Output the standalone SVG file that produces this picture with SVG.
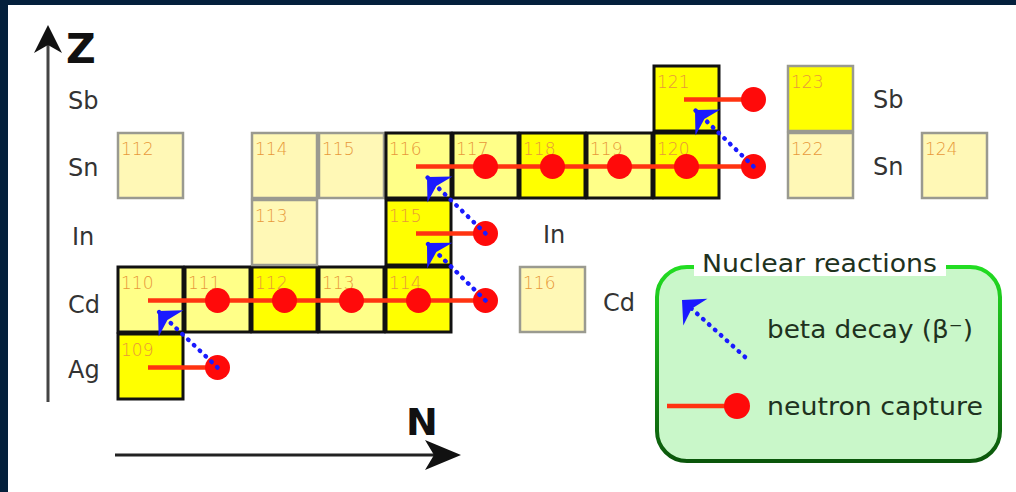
<svg xmlns="http://www.w3.org/2000/svg" width="1016" height="492" viewBox="0 0 1016 492">
<defs>
<style>
.lbl{font-family:"DejaVu Sans","Liberation Sans",sans-serif;font-size:24px;fill:#333333}
.axl{font-family:"DejaVu Sans","Liberation Sans",sans-serif;font-weight:bold;fill:#111111}
.num{font-family:"DejaVu Sans","Liberation Sans",sans-serif;font-size:17px;fill:#e8983a;font-weight:300}
.b{fill:#ffff00;stroke:#111111;stroke-width:3}
.l{fill:#ffff88;stroke:#111111;stroke-width:3}
.p{fill:#fff8b6;stroke:#9a9a90;stroke-width:2.5}
.pb{fill:#ffff00;stroke:#9a9a90;stroke-width:2.5}
.nc{stroke:#ff3311;stroke-width:4.5;fill:none}
.dot{fill:#ff0a0a}
.bd{stroke:#1a1aff;stroke-width:4.5;stroke-dasharray:0.5 7.5;stroke-linecap:round;fill:none;marker-end:url(#bh)}
.leg{font-family:"DejaVu Sans","Liberation Sans",sans-serif;font-size:25px;fill:#1e321e}
</style>
<marker id="bh" markerUnits="userSpaceOnUse" markerWidth="44" markerHeight="44" viewBox="-22 -22 44 44" refX="0" refY="0" orient="auto">
<path d="M0,0 L-18,-18 L-13,0 L-18,18 Z" fill="#1a1aff"/>
</marker>
<linearGradient id="gs" x1="0" y1="0" x2="0" y2="1">
<stop offset="0" stop-color="#22dd22"/>
<stop offset="1" stop-color="#0b560b"/>
</linearGradient>
</defs>
<rect x="0" y="0" width="1016" height="492" fill="#04203c"/>
<rect x="8" y="5" width="1008" height="487" fill="#ffffff"/>

<g id="axes">
<line x1="48" y1="402" x2="48" y2="40" stroke="#444" stroke-width="3"/>
<path d="M48,25 L62,53 L48,45 L34,53 Z" fill="#111"/>
<text class="axl" x="66" y="63" font-size="41">Z</text>
<line x1="115" y1="455" x2="445" y2="455" stroke="#222" stroke-width="3"/>
<path d="M461,455 L425,440 L434,455 L425,470 Z" fill="#111"/>
<text class="axl" x="406" y="435" font-size="38">N</text>
</g>

<g id="labels">
<text class="lbl" x="68" y="109">Sb</text>
<text class="lbl" x="68" y="176">Sn</text>
<text class="lbl" x="72" y="245">In</text>
<text class="lbl" x="68" y="313">Cd</text>
<text class="lbl" x="68" y="378">Ag</text>
<text class="lbl" x="873" y="108">Sb</text>
<text class="lbl" x="873" y="175">Sn</text>
<text class="lbl" x="543" y="243">In</text>
<text class="lbl" x="603" y="311">Cd</text>
</g>

<g id="Ag109"><rect class="b" x="118" y="334" width="65" height="65"/><text class="num" x="121" y="356">109</text></g>
<g id="Cd110"><rect class="l" x="118" y="267" width="65" height="65"/><text class="num" x="121" y="289">110</text></g>
<g id="Cd111"><rect class="l" x="185" y="267" width="65" height="65"/><text class="num" x="188" y="289">111</text></g>
<g id="Cd112"><rect class="b" x="252" y="267" width="65" height="65"/><text class="num" x="255" y="289">112</text></g>
<g id="Cd113"><rect class="l" x="319" y="267" width="65" height="65"/><text class="num" x="322" y="289">113</text></g>
<g id="Cd114"><rect class="b" x="386" y="267" width="65" height="65"/><text class="num" x="389" y="289">114</text></g>
<g id="Cd116"><rect class="p" x="520" y="267" width="65" height="65"/><text class="num" x="523" y="289">116</text></g>
<g id="In113"><rect class="p" x="252" y="200" width="65" height="65"/><text class="num" x="255" y="222">113</text></g>
<g id="In115"><rect class="b" x="386" y="200" width="65" height="65"/><text class="num" x="389" y="222">115</text></g>
<g id="Sn112"><rect class="p" x="118" y="133" width="65" height="65"/><text class="num" x="121" y="155">112</text></g>
<g id="Sn114"><rect class="p" x="252" y="133" width="65" height="65"/><text class="num" x="255" y="155">114</text></g>
<g id="Sn115"><rect class="p" x="319" y="133" width="65" height="65"/><text class="num" x="322" y="155">115</text></g>
<g id="Sn116"><rect class="l" x="386" y="133" width="65" height="65"/><text class="num" x="389" y="155">116</text></g>
<g id="Sn117"><rect class="l" x="453" y="133" width="65" height="65"/><text class="num" x="456" y="155">117</text></g>
<g id="Sn118"><rect class="b" x="520" y="133" width="65" height="65"/><text class="num" x="523" y="155">118</text></g>
<g id="Sn119"><rect class="l" x="587" y="133" width="65" height="65"/><text class="num" x="590" y="155">119</text></g>
<g id="Sn120"><rect class="b" x="654" y="133" width="65" height="65"/><text class="num" x="657" y="155">120</text></g>
<g id="Sn122"><rect class="p" x="788" y="133" width="65" height="65"/><text class="num" x="791" y="155">122</text></g>
<g id="Sn124"><rect class="p" x="922" y="133" width="65" height="65"/><text class="num" x="925" y="155">124</text></g>
<g id="Sb121"><rect class="b" x="654" y="66" width="65" height="65"/><text class="num" x="657" y="88">121</text></g>
<g id="Sb123"><rect class="pb" x="788" y="66" width="65" height="65"/><text class="num" x="791" y="88">123</text></g>

<g id="connectors">
<line class="nc" x1="148" y1="367.5" x2="217.5" y2="367.5"/>
<line class="nc" x1="148" y1="300.5" x2="485.5" y2="300.5"/>
<line class="nc" x1="416" y1="233.5" x2="485.5" y2="233.5"/>
<line class="nc" x1="416" y1="166.5" x2="753.5" y2="166.5"/>
<line class="nc" x1="684" y1="99.5" x2="753.5" y2="99.5"/>
<circle class="dot" cx="217.5" cy="367.5" r="12.5"/>
<circle class="dot" cx="217.5" cy="300.5" r="12.5"/>
<circle class="dot" cx="284.5" cy="300.5" r="12.5"/>
<circle class="dot" cx="351.5" cy="300.5" r="12.5"/>
<circle class="dot" cx="418.5" cy="300.5" r="12.5"/>
<circle class="dot" cx="485.5" cy="300.5" r="12.5"/>
<circle class="dot" cx="485.5" cy="233.5" r="12.5"/>
<circle class="dot" cx="485.5" cy="166.5" r="12.5"/>
<circle class="dot" cx="552.5" cy="166.5" r="12.5"/>
<circle class="dot" cx="619.5" cy="166.5" r="12.5"/>
<circle class="dot" cx="686.5" cy="166.5" r="12.5"/>
<circle class="dot" cx="753.5" cy="166.5" r="12.5"/>
<circle class="dot" cx="753.5" cy="99.5" r="12.5"/>
<line class="bd" x1="217.5" y1="367.5" x2="158" y2="311"/>
<line class="bd" x1="485.5" y1="300.5" x2="427" y2="243"/>
<line class="bd" x1="485.5" y1="233.5" x2="427" y2="177"/>
<line class="bd" x1="753.5" y1="166.5" x2="695" y2="110"/>
</g>

<g id="legend">
<rect x="657" y="267" width="343" height="194" rx="30" ry="30" fill="#c9f7c9" stroke="url(#gs)" stroke-width="4"/>
<rect x="694" y="255" width="252" height="21" fill="#ffffff"/>
<text class="leg" x="702" y="272" textLength="235" lengthAdjust="spacingAndGlyphs">Nuclear reactions</text>
<line class="bd" x1="745" y1="357" x2="682" y2="300"/>
<text class="leg" x="767" y="338" textLength="206" lengthAdjust="spacingAndGlyphs">beta decay (β⁻)</text>
<line class="nc" x1="667" y1="406" x2="737" y2="406"/>
<circle class="dot" cx="737" cy="406" r="13"/>
<text class="leg" x="767" y="415" textLength="216" lengthAdjust="spacingAndGlyphs">neutron capture</text>
</g>
</svg>
